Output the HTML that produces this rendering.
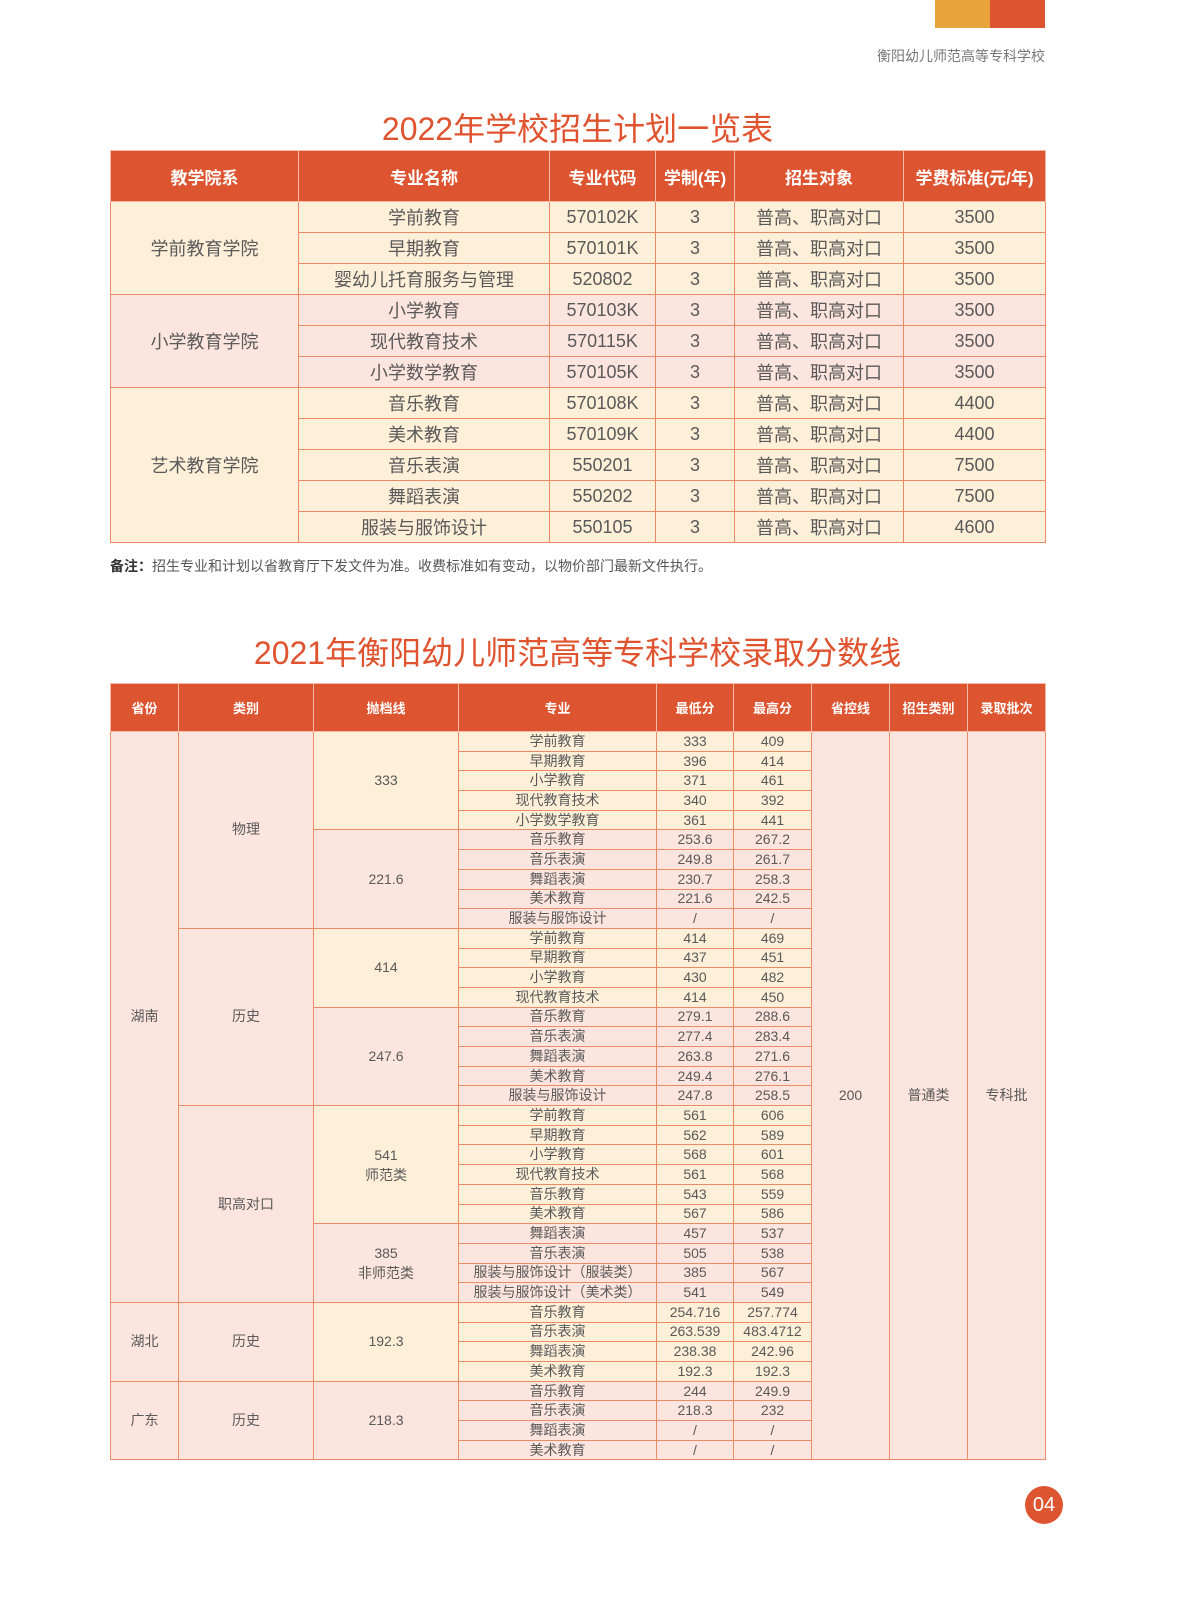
<!DOCTYPE html>
<html><head><meta charset="utf-8">
<style>
*{margin:0;padding:0;box-sizing:border-box}
body{width:1178px;height:1600px;background:#fff;position:relative;font-family:"Liberation Sans","Noto Sans CJK SC",sans-serif;color:#5a5a5a;overflow:hidden}
.abs{position:absolute}
table{border-collapse:collapse;table-layout:fixed;position:absolute}
td,th{border:1px solid #EA8A66;text-align:center;vertical-align:middle;padding:0;overflow:hidden;white-space:nowrap}
th{background:#DD5430;color:#fff;font-weight:bold;border-color:#F3B9A4}
.c{background:#FDEFD8}.p{background:#FCE4DF}
#t1{left:110px;top:150px;width:935px;font-size:18px}
#t1 th{height:51px;font-size:17px}
#t1 td{height:31px}
#t2{left:110px;top:683px;width:935px;font-size:14px}
#t2 th{height:48px;font-size:13px}
#t2 tr.r td{height:19.7px;line-height:17px}
</style></head><body>
<div class="abs" style="left:935px;top:0;width:55px;height:28px;background:#E8A33C"></div>
<div class="abs" style="left:990px;top:0;width:55px;height:28px;background:#DD5430"></div>
<div class="abs" style="left:800px;top:46px;width:245px;text-align:right;font-size:14px;color:#777">衡阳幼儿师范高等专科学校</div>
<div class="abs" style="left:0;top:104px;width:1155px;text-align:center;font-size:32px;color:#E0532F">2022年学校招生计划一览表</div>
<table id="t1">
<colgroup><col style="width:188px"><col style="width:251px"><col style="width:106px"><col style="width:79px"><col style="width:169px"><col style="width:142px"></colgroup>
<tr><th>教学院系</th><th>专业名称</th><th>专业代码</th><th>学制(年)</th><th>招生对象</th><th>学费标准(元/年)</th></tr>
<tr class="c"><td rowspan="3">学前教育学院</td><td>学前教育</td><td>570102K</td><td>3</td><td>普高、职高对口</td><td>3500</td></tr>
<tr class="c"><td>早期教育</td><td>570101K</td><td>3</td><td>普高、职高对口</td><td>3500</td></tr>
<tr class="c"><td>婴幼儿托育服务与管理</td><td>520802</td><td>3</td><td>普高、职高对口</td><td>3500</td></tr>
<tr class="p"><td rowspan="3">小学教育学院</td><td>小学教育</td><td>570103K</td><td>3</td><td>普高、职高对口</td><td>3500</td></tr>
<tr class="p"><td>现代教育技术</td><td>570115K</td><td>3</td><td>普高、职高对口</td><td>3500</td></tr>
<tr class="p"><td>小学数学教育</td><td>570105K</td><td>3</td><td>普高、职高对口</td><td>3500</td></tr>
<tr class="c"><td rowspan="5">艺术教育学院</td><td>音乐教育</td><td>570108K</td><td>3</td><td>普高、职高对口</td><td>4400</td></tr>
<tr class="c"><td>美术教育</td><td>570109K</td><td>3</td><td>普高、职高对口</td><td>4400</td></tr>
<tr class="c"><td>音乐表演</td><td>550201</td><td>3</td><td>普高、职高对口</td><td>7500</td></tr>
<tr class="c"><td>舞蹈表演</td><td>550202</td><td>3</td><td>普高、职高对口</td><td>7500</td></tr>
<tr class="c"><td>服装与服饰设计</td><td>550105</td><td>3</td><td>普高、职高对口</td><td>4600</td></tr>
</table>
<div class="abs" style="left:110px;top:556px;font-size:14px;color:#555"><b style="color:#333">备注：</b>招生专业和计划以省教育厅下发文件为准。收费标准如有变动，以物价部门最新文件执行。</div>
<div class="abs" style="left:0;top:628px;width:1155px;text-align:center;font-size:32px;color:#E0532F">2021年衡阳幼儿师范高等专科学校录取分数线</div>
<table id="t2">
<colgroup><col style="width:68px"><col style="width:135px"><col style="width:145px"><col style="width:198px"><col style="width:77px"><col style="width:78px"><col style="width:78px"><col style="width:78px"><col style="width:78px"></colgroup>
<tr><th>省份</th><th>类别</th><th>抛档线</th><th>专业</th><th>最低分</th><th>最高分</th><th>省控线</th><th>招生类别</th><th>录取批次</th></tr>
<tr class="r"><td class="p" rowspan="29">湖南</td><td class="p" rowspan="10">物理</td><td class="c" rowspan="5">333</td><td class="c">学前教育</td><td class="c">333</td><td class="c">409</td><td class="p" rowspan="37">200</td><td class="p" rowspan="37">普通类</td><td class="p" rowspan="37">专科批</td></tr>
<tr class="r c"><td>早期教育</td><td>396</td><td>414</td></tr>
<tr class="r c"><td>小学教育</td><td>371</td><td>461</td></tr>
<tr class="r c"><td>现代教育技术</td><td>340</td><td>392</td></tr>
<tr class="r c"><td>小学数学教育</td><td>361</td><td>441</td></tr>
<tr class="r p"><td rowspan="5">221.6</td><td>音乐教育</td><td>253.6</td><td>267.2</td></tr>
<tr class="r p"><td>音乐表演</td><td>249.8</td><td>261.7</td></tr>
<tr class="r p"><td>舞蹈表演</td><td>230.7</td><td>258.3</td></tr>
<tr class="r p"><td>美术教育</td><td>221.6</td><td>242.5</td></tr>
<tr class="r p"><td>服装与服饰设计</td><td>/</td><td>/</td></tr>
<tr class="r c"><td class="p" rowspan="9">历史</td><td rowspan="4">414</td><td>学前教育</td><td>414</td><td>469</td></tr>
<tr class="r c"><td>早期教育</td><td>437</td><td>451</td></tr>
<tr class="r c"><td>小学教育</td><td>430</td><td>482</td></tr>
<tr class="r c"><td>现代教育技术</td><td>414</td><td>450</td></tr>
<tr class="r p"><td rowspan="5">247.6</td><td>音乐教育</td><td>279.1</td><td>288.6</td></tr>
<tr class="r p"><td>音乐表演</td><td>277.4</td><td>283.4</td></tr>
<tr class="r p"><td>舞蹈表演</td><td>263.8</td><td>271.6</td></tr>
<tr class="r p"><td>美术教育</td><td>249.4</td><td>276.1</td></tr>
<tr class="r p"><td>服装与服饰设计</td><td>247.8</td><td>258.5</td></tr>
<tr class="r c"><td class="p" rowspan="10">职高对口</td><td rowspan="6" style="line-height:20px">541<br>师范类</td><td>学前教育</td><td>561</td><td>606</td></tr>
<tr class="r c"><td>早期教育</td><td>562</td><td>589</td></tr>
<tr class="r c"><td>小学教育</td><td>568</td><td>601</td></tr>
<tr class="r c"><td>现代教育技术</td><td>561</td><td>568</td></tr>
<tr class="r c"><td>音乐教育</td><td>543</td><td>559</td></tr>
<tr class="r c"><td>美术教育</td><td>567</td><td>586</td></tr>
<tr class="r p"><td rowspan="4" style="line-height:20px">385<br>非师范类</td><td>舞蹈表演</td><td>457</td><td>537</td></tr>
<tr class="r p"><td>音乐表演</td><td>505</td><td>538</td></tr>
<tr class="r p"><td>服装与服饰设计（服装类）</td><td>385</td><td>567</td></tr>
<tr class="r p"><td>服装与服饰设计（美术类）</td><td>541</td><td>549</td></tr>
<tr class="r c"><td class="p" rowspan="4">湖北</td><td class="p" rowspan="4">历史</td><td rowspan="4">192.3</td><td>音乐教育</td><td>254.716</td><td>257.774</td></tr>
<tr class="r c"><td>音乐表演</td><td>263.539</td><td>483.4712</td></tr>
<tr class="r c"><td>舞蹈表演</td><td>238.38</td><td>242.96</td></tr>
<tr class="r c"><td>美术教育</td><td>192.3</td><td>192.3</td></tr>
<tr class="r p"><td rowspan="4">广东</td><td rowspan="4">历史</td><td rowspan="4">218.3</td><td>音乐教育</td><td>244</td><td>249.9</td></tr>
<tr class="r p"><td>音乐表演</td><td>218.3</td><td>232</td></tr>
<tr class="r p"><td>舞蹈表演</td><td>/</td><td>/</td></tr>
<tr class="r p"><td>美术教育</td><td>/</td><td>/</td></tr>
</table>
<div class="abs" style="left:1025px;top:1486px;width:38px;height:38px;border-radius:50%;background:#DD5430;color:#fff;font-size:20px;line-height:38px;text-align:center">04</div>
</body></html>
